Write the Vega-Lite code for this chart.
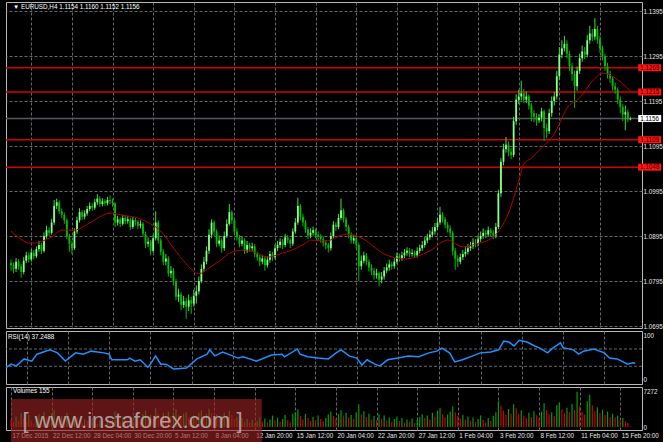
{
"$schema":"https://vega.github.io/schema/vega-lite/v6.json",
"background":"#000000",
"padding":{"left":2,"top":1,"right":0,"bottom":0},
"spacing":3,
"bounds":"flush",
"config":{
 "view":{"stroke":"#b9b9b9","strokeWidth":1},
 "axis":{"title":null,"domain":false,"labelFont":"Liberation Sans","labelFontSize":6.3,"labelColor":"#e6e6e6","gridColor":"#64686d","gridDash":[3,2],"gridWidth":1,"ticks":false,"labelOverlap":false,"labelFlush":false,"labelBound":false},
 "text":{"font":"Liberation Sans"}
},
"resolve":{"scale":{"x":"independent","y":"independent"}},
"datasets":{
"bars":[
{"i":0,"o":1.0835,"h":1.0843,"l":1.0818,"c":1.0830,"v":1500,"u":0},
{"i":1,"o":1.0830,"h":1.0836,"l":1.0812,"c":1.0822,"v":900,"u":0},
{"i":2,"o":1.0822,"h":1.0846,"l":1.0815,"c":1.0838,"v":2100,"u":1},
{"i":3,"o":1.0838,"h":1.0844,"l":1.0820,"c":1.0828,"v":1200,"u":0},
{"i":4,"o":1.0828,"h":1.0833,"l":1.0802,"c":1.0815,"v":2800,"u":1},
{"i":5,"o":1.0815,"h":1.0848,"l":1.0810,"c":1.0840,"v":1600,"u":0},
{"i":6,"o":1.0840,"h":1.0860,"l":1.0835,"c":1.0852,"v":1100,"u":0},
{"i":7,"o":1.0852,"h":1.0858,"l":1.0836,"c":1.0843,"v":2400,"u":1},
{"i":8,"o":1.0843,"h":1.0866,"l":1.0838,"c":1.0858,"v":1300,"u":0},
{"i":9,"o":1.0858,"h":1.0864,"l":1.0843,"c":1.0850,"v":700,"u":0},
{"i":10,"o":1.0850,"h":1.0872,"l":1.0846,"c":1.0866,"v":1900,"u":1},
{"i":11,"o":1.0866,"h":1.0884,"l":1.0860,"c":1.0875,"v":2600,"u":1},
{"i":12,"o":1.0875,"h":1.0880,"l":1.0855,"c":1.0862,"v":1400,"u":0},
{"i":13,"o":1.0862,"h":1.0903,"l":1.0858,"c":1.0895,"v":3100,"u":1},
{"i":14,"o":1.0895,"h":1.0918,"l":1.0889,"c":1.0908,"v":2000,"u":0},
{"i":15,"o":1.0908,"h":1.0914,"l":1.0895,"c":1.0902,"v":1200,"u":0},
{"i":16,"o":1.0902,"h":1.0933,"l":1.0898,"c":1.0925,"v":2700,"u":1},
{"i":17,"o":1.0925,"h":1.0975,"l":1.0920,"c":1.0962,"v":3400,"u":1},
{"i":18,"o":1.0962,"h":1.0978,"l":1.0955,"c":1.0970,"v":1800,"u":0},
{"i":19,"o":1.0970,"h":1.0974,"l":1.0944,"c":1.0950,"v":1300,"u":0},
{"i":20,"o":1.0950,"h":1.0956,"l":1.0935,"c":1.0942,"v":2200,"u":1},
{"i":21,"o":1.0942,"h":1.0947,"l":1.0922,"c":1.0930,"v":1500,"u":0},
{"i":22,"o":1.0930,"h":1.0934,"l":1.0888,"c":1.0895,"v":2900,"u":1},
{"i":23,"o":1.0895,"h":1.0900,"l":1.0860,"c":1.0878,"v":1700,"u":0},
{"i":24,"o":1.0878,"h":1.0884,"l":1.0855,"c":1.0868,"v":1100,"u":0},
{"i":25,"o":1.0868,"h":1.0912,"l":1.0864,"c":1.0905,"v":2300,"u":1},
{"i":26,"o":1.0905,"h":1.0938,"l":1.0900,"c":1.0930,"v":1900,"u":0},
{"i":27,"o":1.0930,"h":1.0957,"l":1.0925,"c":1.0948,"v":1400,"u":0},
{"i":28,"o":1.0948,"h":1.0953,"l":1.0930,"c":1.0938,"v":800,"u":0},
{"i":29,"o":1.0938,"h":1.0952,"l":1.0932,"c":1.0945,"v":1600,"u":1},
{"i":30,"o":1.0945,"h":1.0962,"l":1.0940,"c":1.0955,"v":1200,"u":0},
{"i":31,"o":1.0955,"h":1.0970,"l":1.0950,"c":1.0962,"v":700,"u":0},
{"i":32,"o":1.0962,"h":1.0968,"l":1.0951,"c":1.0958,"v":1500,"u":1},
{"i":33,"o":1.0958,"h":1.0977,"l":1.0953,"c":1.0970,"v":1000,"u":0},
{"i":34,"o":1.0970,"h":1.0988,"l":1.0964,"c":1.0978,"v":600,"u":0},
{"i":35,"o":1.0978,"h":1.0983,"l":1.0960,"c":1.0966,"v":1300,"u":1},
{"i":36,"o":1.0966,"h":1.0979,"l":1.0961,"c":1.0972,"v":900,"u":0},
{"i":37,"o":1.0972,"h":1.0977,"l":1.0962,"c":1.0968,"v":500,"u":0},
{"i":38,"o":1.0968,"h":1.0982,"l":1.0963,"c":1.0975,"v":1100,"u":1},
{"i":39,"o":1.0975,"h":1.0985,"l":1.0966,"c":1.0972,"v":800,"u":0},
{"i":40,"o":1.0972,"h":1.0978,"l":1.0960,"c":1.0968,"v":1400,"u":1},
{"i":41,"o":1.0968,"h":1.0970,"l":1.0915,"c":1.0925,"v":3200,"u":1},
{"i":42,"o":1.0925,"h":1.0940,"l":1.0918,"c":1.0932,"v":1800,"u":0},
{"i":43,"o":1.0932,"h":1.0937,"l":1.0915,"c":1.0922,"v":1100,"u":0},
{"i":44,"o":1.0922,"h":1.0942,"l":1.0918,"c":1.0935,"v":2000,"u":1},
{"i":45,"o":1.0935,"h":1.0940,"l":1.0921,"c":1.0928,"v":1300,"u":0},
{"i":46,"o":1.0928,"h":1.0939,"l":1.0922,"c":1.0932,"v":900,"u":0},
{"i":47,"o":1.0932,"h":1.0936,"l":1.0908,"c":1.0915,"v":1700,"u":1},
{"i":48,"o":1.0915,"h":1.0937,"l":1.0911,"c":1.0930,"v":1200,"u":0},
{"i":49,"o":1.0930,"h":1.0935,"l":1.0918,"c":1.0926,"v":2100,"u":1},
{"i":50,"o":1.0926,"h":1.0931,"l":1.0910,"c":1.0918,"v":1500,"u":0},
{"i":51,"o":1.0918,"h":1.0930,"l":1.0912,"c":1.0922,"v":1000,"u":0},
{"i":52,"o":1.0922,"h":1.0926,"l":1.0893,"c":1.0900,"v":2600,"u":1},
{"i":53,"o":1.0900,"h":1.0905,"l":1.0868,"c":1.0878,"v":3300,"u":1},
{"i":54,"o":1.0878,"h":1.0892,"l":1.0870,"c":1.0882,"v":1900,"u":0},
{"i":55,"o":1.0882,"h":1.0886,"l":1.0852,"c":1.0862,"v":2400,"u":1},
{"i":56,"o":1.0862,"h":1.0898,"l":1.0858,"c":1.0890,"v":1600,"u":0},
{"i":57,"o":1.0890,"h":1.0950,"l":1.0885,"c":1.0925,"v":3800,"u":1},
{"i":58,"o":1.0925,"h":1.0930,"l":1.0878,"c":1.0885,"v":2700,"u":0},
{"i":59,"o":1.0885,"h":1.0890,"l":1.0852,"c":1.0860,"v":1700,"u":0},
{"i":60,"o":1.0860,"h":1.0866,"l":1.0830,"c":1.0838,"v":2900,"u":1},
{"i":61,"o":1.0838,"h":1.0855,"l":1.0830,"c":1.0845,"v":2000,"u":0},
{"i":62,"o":1.0845,"h":1.0850,"l":1.0805,"c":1.0812,"v":3100,"u":1},
{"i":63,"o":1.0812,"h":1.0828,"l":1.0802,"c":1.0818,"v":2200,"u":0},
{"i":64,"o":1.0818,"h":1.0824,"l":1.0785,"c":1.0795,"v":2800,"u":1},
{"i":65,"o":1.0795,"h":1.0800,"l":1.0752,"c":1.0760,"v":3600,"u":1},
{"i":66,"o":1.0760,"h":1.0778,"l":1.0748,"c":1.0765,"v":2400,"u":0},
{"i":67,"o":1.0765,"h":1.0770,"l":1.0730,"c":1.0742,"v":1800,"u":0},
{"i":68,"o":1.0742,"h":1.0762,"l":1.0735,"c":1.0750,"v":2700,"u":1},
{"i":69,"o":1.0750,"h":1.0758,"l":1.0711,"c":1.0738,"v":3000,"u":1},
{"i":70,"o":1.0738,"h":1.0765,"l":1.0728,"c":1.0752,"v":1900,"u":0},
{"i":71,"o":1.0752,"h":1.0760,"l":1.0722,"c":1.0745,"v":1400,"u":0},
{"i":72,"o":1.0745,"h":1.0775,"l":1.0738,"c":1.0762,"v":2300,"u":1},
{"i":73,"o":1.0762,"h":1.0785,"l":1.0745,"c":1.0772,"v":1700,"u":0},
{"i":74,"o":1.0772,"h":1.0805,"l":1.0765,"c":1.0795,"v":2900,"u":1},
{"i":75,"o":1.0795,"h":1.0832,"l":1.0790,"c":1.0822,"v":3400,"u":1},
{"i":76,"o":1.0822,"h":1.0848,"l":1.0815,"c":1.0838,"v":2100,"u":0},
{"i":77,"o":1.0838,"h":1.0872,"l":1.0832,"c":1.0862,"v":2600,"u":1},
{"i":78,"o":1.0862,"h":1.0910,"l":1.0855,"c":1.0898,"v":3700,"u":1},
{"i":79,"o":1.0898,"h":1.0932,"l":1.0890,"c":1.0925,"v":2800,"u":0},
{"i":80,"o":1.0925,"h":1.0930,"l":1.0895,"c":1.0905,"v":1900,"u":0},
{"i":81,"o":1.0905,"h":1.0910,"l":1.0870,"c":1.0878,"v":2500,"u":1},
{"i":82,"o":1.0878,"h":1.0896,"l":1.0872,"c":1.0885,"v":1500,"u":0},
{"i":83,"o":1.0885,"h":1.0890,"l":1.0858,"c":1.0868,"v":2200,"u":1},
{"i":84,"o":1.0868,"h":1.0905,"l":1.0862,"c":1.0895,"v":2900,"u":1},
{"i":85,"o":1.0895,"h":1.0932,"l":1.0890,"c":1.0922,"v":1800,"u":0},
{"i":86,"o":1.0922,"h":1.0966,"l":1.0918,"c":1.0948,"v":3300,"u":1},
{"i":87,"o":1.0948,"h":1.0952,"l":1.0922,"c":1.0930,"v":2400,"u":0},
{"i":88,"o":1.0930,"h":1.0935,"l":1.0898,"c":1.0905,"v":1600,"u":0},
{"i":89,"o":1.0905,"h":1.0912,"l":1.0885,"c":1.0892,"v":2000,"u":1},
{"i":90,"o":1.0892,"h":1.0897,"l":1.0870,"c":1.0878,"v":1300,"u":0},
{"i":91,"o":1.0878,"h":1.0894,"l":1.0872,"c":1.0885,"v":1800,"u":1},
{"i":92,"o":1.0885,"h":1.0890,"l":1.0855,"c":1.0862,"v":1100,"u":0},
{"i":93,"o":1.0862,"h":1.0884,"l":1.0857,"c":1.0875,"v":1600,"u":1},
{"i":94,"o":1.0875,"h":1.0880,"l":1.0860,"c":1.0868,"v":900,"u":0},
{"i":95,"o":1.0868,"h":1.0880,"l":1.0862,"c":1.0872,"v":1400,"u":1},
{"i":96,"o":1.0872,"h":1.0877,"l":1.0848,"c":1.0855,"v":700,"u":0},
{"i":97,"o":1.0855,"h":1.0860,"l":1.0840,"c":1.0848,"v":1200,"u":1},
{"i":98,"o":1.0848,"h":1.0853,"l":1.0828,"c":1.0838,"v":2000,"u":1},
{"i":99,"o":1.0838,"h":1.0852,"l":1.0832,"c":1.0845,"v":1100,"u":0},
{"i":100,"o":1.0845,"h":1.0850,"l":1.0818,"c":1.0830,"v":1700,"u":1},
{"i":101,"o":1.0830,"h":1.0850,"l":1.0825,"c":1.0842,"v":900,"u":0},
{"i":102,"o":1.0842,"h":1.0862,"l":1.0836,"c":1.0855,"v":1500,"u":1},
{"i":103,"o":1.0855,"h":1.0860,"l":1.0840,"c":1.0848,"v":2300,"u":1},
{"i":104,"o":1.0848,"h":1.0876,"l":1.0843,"c":1.0868,"v":1300,"u":0},
{"i":105,"o":1.0868,"h":1.0884,"l":1.0862,"c":1.0875,"v":1900,"u":1},
{"i":106,"o":1.0875,"h":1.0890,"l":1.0868,"c":1.0882,"v":1000,"u":0},
{"i":107,"o":1.0882,"h":1.0888,"l":1.0866,"c":1.0875,"v":1600,"u":1},
{"i":108,"o":1.0875,"h":1.0900,"l":1.0870,"c":1.0892,"v":2400,"u":1},
{"i":109,"o":1.0892,"h":1.0897,"l":1.0879,"c":1.0886,"v":1400,"u":0},
{"i":110,"o":1.0886,"h":1.0890,"l":1.0868,"c":1.0878,"v":900,"u":0},
{"i":111,"o":1.0878,"h":1.0912,"l":1.0873,"c":1.0905,"v":2700,"u":1},
{"i":112,"o":1.0905,"h":1.0935,"l":1.0900,"c":1.0925,"v":3000,"u":1},
{"i":113,"o":1.0925,"h":1.0980,"l":1.0920,"c":1.0962,"v":3600,"u":1},
{"i":114,"o":1.0962,"h":1.0966,"l":1.0930,"c":1.0938,"v":2200,"u":0},
{"i":115,"o":1.0938,"h":1.0944,"l":1.0916,"c":1.0925,"v":1500,"u":0},
{"i":116,"o":1.0925,"h":1.0930,"l":1.0902,"c":1.0910,"v":2600,"u":1},
{"i":117,"o":1.0910,"h":1.0915,"l":1.0888,"c":1.0896,"v":1800,"u":0},
{"i":118,"o":1.0896,"h":1.0912,"l":1.0890,"c":1.0902,"v":1200,"u":0},
{"i":119,"o":1.0902,"h":1.0916,"l":1.0896,"c":1.0908,"v":2000,"u":1},
{"i":120,"o":1.0908,"h":1.0912,"l":1.0890,"c":1.0898,"v":1400,"u":0},
{"i":121,"o":1.0898,"h":1.0905,"l":1.0886,"c":1.0893,"v":2300,"u":1},
{"i":122,"o":1.0893,"h":1.0899,"l":1.0880,"c":1.0888,"v":1600,"u":0},
{"i":123,"o":1.0888,"h":1.0894,"l":1.0872,"c":1.0880,"v":1100,"u":0},
{"i":124,"o":1.0880,"h":1.0886,"l":1.0866,"c":1.0875,"v":1800,"u":1},
{"i":125,"o":1.0875,"h":1.0880,"l":1.0858,"c":1.0868,"v":2500,"u":1},
{"i":126,"o":1.0868,"h":1.0903,"l":1.0862,"c":1.0895,"v":3100,"u":1},
{"i":127,"o":1.0895,"h":1.0928,"l":1.0890,"c":1.0920,"v":2200,"u":0},
{"i":128,"o":1.0920,"h":1.0926,"l":1.0906,"c":1.0915,"v":1700,"u":0},
{"i":129,"o":1.0915,"h":1.0944,"l":1.0910,"c":1.0935,"v":2600,"u":1},
{"i":130,"o":1.0935,"h":1.0978,"l":1.0930,"c":1.0952,"v":3400,"u":1},
{"i":131,"o":1.0952,"h":1.0956,"l":1.0925,"c":1.0932,"v":2300,"u":0},
{"i":132,"o":1.0932,"h":1.0937,"l":1.0906,"c":1.0915,"v":2900,"u":1},
{"i":133,"o":1.0915,"h":1.0920,"l":1.0890,"c":1.0898,"v":1900,"u":0},
{"i":134,"o":1.0898,"h":1.0903,"l":1.0878,"c":1.0885,"v":2400,"u":1},
{"i":135,"o":1.0885,"h":1.0898,"l":1.0878,"c":1.0890,"v":1600,"u":0},
{"i":136,"o":1.0890,"h":1.0896,"l":1.0866,"c":1.0875,"v":3000,"u":1},
{"i":137,"o":1.0875,"h":1.0880,"l":1.0795,"c":1.0828,"v":4600,"u":1},
{"i":138,"o":1.0828,"h":1.0852,"l":1.0820,"c":1.0840,"v":2600,"u":0},
{"i":139,"o":1.0840,"h":1.0860,"l":1.0834,"c":1.0852,"v":3200,"u":1},
{"i":140,"o":1.0852,"h":1.0857,"l":1.0830,"c":1.0838,"v":2000,"u":0},
{"i":141,"o":1.0838,"h":1.0843,"l":1.0816,"c":1.0825,"v":2700,"u":1},
{"i":142,"o":1.0825,"h":1.0832,"l":1.0808,"c":1.0818,"v":1500,"u":0},
{"i":143,"o":1.0818,"h":1.0824,"l":1.0798,"c":1.0808,"v":2200,"u":1},
{"i":144,"o":1.0808,"h":1.0822,"l":1.0800,"c":1.0812,"v":1400,"u":0},
{"i":145,"o":1.0812,"h":1.0816,"l":1.0783,"c":1.0798,"v":2600,"u":1},
{"i":146,"o":1.0798,"h":1.0815,"l":1.0790,"c":1.0805,"v":1700,"u":0},
{"i":147,"o":1.0805,"h":1.0826,"l":1.0798,"c":1.0818,"v":2300,"u":1},
{"i":148,"o":1.0818,"h":1.0834,"l":1.0812,"c":1.0825,"v":1300,"u":0},
{"i":149,"o":1.0825,"h":1.0842,"l":1.0818,"c":1.0832,"v":1900,"u":1},
{"i":150,"o":1.0832,"h":1.0838,"l":1.0820,"c":1.0828,"v":1000,"u":0},
{"i":151,"o":1.0828,"h":1.0846,"l":1.0822,"c":1.0838,"v":1600,"u":1},
{"i":152,"o":1.0838,"h":1.0858,"l":1.0833,"c":1.0850,"v":2100,"u":1},
{"i":153,"o":1.0850,"h":1.0856,"l":1.0838,"c":1.0845,"v":1200,"u":0},
{"i":154,"o":1.0845,"h":1.0860,"l":1.0840,"c":1.0852,"v":1800,"u":1},
{"i":155,"o":1.0852,"h":1.0866,"l":1.0846,"c":1.0858,"v":900,"u":0},
{"i":156,"o":1.0858,"h":1.0870,"l":1.0851,"c":1.0862,"v":1500,"u":1},
{"i":157,"o":1.0862,"h":1.0868,"l":1.0848,"c":1.0855,"v":1100,"u":0},
{"i":158,"o":1.0855,"h":1.0866,"l":1.0849,"c":1.0858,"v":1700,"u":1},
{"i":159,"o":1.0858,"h":1.0863,"l":1.0846,"c":1.0852,"v":800,"u":0},
{"i":160,"o":1.0852,"h":1.0870,"l":1.0847,"c":1.0862,"v":1400,"u":1},
{"i":161,"o":1.0862,"h":1.0876,"l":1.0856,"c":1.0868,"v":2000,"u":1},
{"i":162,"o":1.0868,"h":1.0884,"l":1.0862,"c":1.0875,"v":2600,"u":1},
{"i":163,"o":1.0875,"h":1.0893,"l":1.0869,"c":1.0885,"v":1800,"u":0},
{"i":164,"o":1.0885,"h":1.0900,"l":1.0879,"c":1.0892,"v":2300,"u":1},
{"i":165,"o":1.0892,"h":1.0908,"l":1.0886,"c":1.0898,"v":1500,"u":0},
{"i":166,"o":1.0898,"h":1.0915,"l":1.0892,"c":1.0905,"v":2900,"u":1},
{"i":167,"o":1.0905,"h":1.0924,"l":1.0898,"c":1.0915,"v":2100,"u":0},
{"i":168,"o":1.0915,"h":1.0935,"l":1.0908,"c":1.0925,"v":3300,"u":1},
{"i":169,"o":1.0925,"h":1.0960,"l":1.0920,"c":1.0942,"v":3800,"u":1},
{"i":170,"o":1.0942,"h":1.0948,"l":1.0925,"c":1.0932,"v":2600,"u":0},
{"i":171,"o":1.0932,"h":1.0937,"l":1.0912,"c":1.0920,"v":1900,"u":0},
{"i":172,"o":1.0920,"h":1.0926,"l":1.0903,"c":1.0912,"v":2500,"u":1},
{"i":173,"o":1.0912,"h":1.0918,"l":1.0893,"c":1.0902,"v":3100,"u":1},
{"i":174,"o":1.0902,"h":1.0906,"l":1.0852,"c":1.0862,"v":4200,"u":1},
{"i":175,"o":1.0862,"h":1.0868,"l":1.0820,"c":1.0845,"v":3000,"u":0},
{"i":176,"o":1.0845,"h":1.0852,"l":1.0826,"c":1.0838,"v":2200,"u":0},
{"i":177,"o":1.0838,"h":1.0856,"l":1.0832,"c":1.0848,"v":1700,"u":0},
{"i":178,"o":1.0848,"h":1.0864,"l":1.0842,"c":1.0855,"v":2400,"u":1},
{"i":179,"o":1.0855,"h":1.0870,"l":1.0849,"c":1.0860,"v":1500,"u":0},
{"i":180,"o":1.0860,"h":1.0877,"l":1.0854,"c":1.0868,"v":2100,"u":1},
{"i":181,"o":1.0868,"h":1.0882,"l":1.0862,"c":1.0872,"v":1300,"u":0},
{"i":182,"o":1.0872,"h":1.0890,"l":1.0866,"c":1.0880,"v":1900,"u":1},
{"i":183,"o":1.0880,"h":1.0888,"l":1.0870,"c":1.0878,"v":1000,"u":0},
{"i":184,"o":1.0878,"h":1.0896,"l":1.0872,"c":1.0888,"v":1600,"u":1},
{"i":185,"o":1.0888,"h":1.0905,"l":1.0882,"c":1.0895,"v":2300,"u":1},
{"i":186,"o":1.0895,"h":1.0912,"l":1.0889,"c":1.0902,"v":1400,"u":0},
{"i":187,"o":1.0902,"h":1.0908,"l":1.0890,"c":1.0898,"v":900,"u":0},
{"i":188,"o":1.0898,"h":1.0916,"l":1.0893,"c":1.0908,"v":1800,"u":1},
{"i":189,"o":1.0908,"h":1.0912,"l":1.0895,"c":1.0902,"v":1200,"u":0},
{"i":190,"o":1.0902,"h":1.0908,"l":1.0888,"c":1.0896,"v":2200,"u":1},
{"i":191,"o":1.0896,"h":1.0924,"l":1.0890,"c":1.0915,"v":3000,"u":1},
{"i":192,"o":1.0915,"h":1.0998,"l":1.0910,"c":1.0990,"v":5200,"u":1},
{"i":193,"o":1.0990,"h":1.1068,"l":1.0982,"c":1.1060,"v":4300,"u":0},
{"i":194,"o":1.1060,"h":1.1100,"l":1.1052,"c":1.1088,"v":3300,"u":0},
{"i":195,"o":1.1088,"h":1.1115,"l":1.1080,"c":1.1098,"v":2400,"u":0},
{"i":196,"o":1.1098,"h":1.1105,"l":1.1072,"c":1.1082,"v":3600,"u":1},
{"i":197,"o":1.1082,"h":1.1090,"l":1.1066,"c":1.1075,"v":2700,"u":0},
{"i":198,"o":1.1075,"h":1.1160,"l":1.1070,"c":1.1150,"v":4600,"u":1},
{"i":199,"o":1.1150,"h":1.1210,"l":1.1142,"c":1.1198,"v":3800,"u":0},
{"i":200,"o":1.1198,"h":1.1220,"l":1.1188,"c":1.1205,"v":2600,"u":0},
{"i":201,"o":1.1205,"h":1.1240,"l":1.1196,"c":1.1212,"v":3400,"u":1},
{"i":202,"o":1.1212,"h":1.1222,"l":1.1190,"c":1.1198,"v":2300,"u":0},
{"i":203,"o":1.1198,"h":1.1216,"l":1.1190,"c":1.1205,"v":1800,"u":0},
{"i":204,"o":1.1205,"h":1.1210,"l":1.1176,"c":1.1185,"v":2900,"u":1},
{"i":205,"o":1.1185,"h":1.1190,"l":1.1150,"c":1.1168,"v":2000,"u":0},
{"i":206,"o":1.1168,"h":1.1175,"l":1.1148,"c":1.1160,"v":3200,"u":1},
{"i":207,"o":1.1160,"h":1.1168,"l":1.1140,"c":1.1152,"v":2400,"u":0},
{"i":208,"o":1.1152,"h":1.1166,"l":1.1146,"c":1.1158,"v":1700,"u":0},
{"i":209,"o":1.1158,"h":1.1180,"l":1.1150,"c":1.1172,"v":3100,"u":1},
{"i":210,"o":1.1172,"h":1.1176,"l":1.1106,"c":1.1135,"v":4800,"u":1},
{"i":211,"o":1.1135,"h":1.1145,"l":1.1112,"c":1.1128,"v":3500,"u":0},
{"i":212,"o":1.1128,"h":1.1178,"l":1.1122,"c":1.1168,"v":2600,"u":0},
{"i":213,"o":1.1168,"h":1.1205,"l":1.1160,"c":1.1195,"v":3000,"u":1},
{"i":214,"o":1.1195,"h":1.1215,"l":1.1185,"c":1.1205,"v":2200,"u":0},
{"i":215,"o":1.1205,"h":1.1262,"l":1.1198,"c":1.1250,"v":4400,"u":1},
{"i":216,"o":1.1250,"h":1.1315,"l":1.1242,"c":1.1298,"v":5000,"u":1},
{"i":217,"o":1.1298,"h":1.1330,"l":1.1290,"c":1.1312,"v":3600,"u":0},
{"i":218,"o":1.1312,"h":1.1340,"l":1.1305,"c":1.1322,"v":2800,"u":0},
{"i":219,"o":1.1322,"h":1.1330,"l":1.1290,"c":1.1300,"v":3900,"u":1},
{"i":220,"o":1.1300,"h":1.1306,"l":1.1262,"c":1.1272,"v":3000,"u":0},
{"i":221,"o":1.1272,"h":1.1280,"l":1.1240,"c":1.1255,"v":4700,"u":1},
{"i":222,"o":1.1255,"h":1.1262,"l":1.1180,"c":1.1228,"v":3400,"u":0},
{"i":223,"o":1.1228,"h":1.1272,"l":1.1218,"c":1.1262,"v":7100,"u":1},
{"i":224,"o":1.1262,"h":1.1300,"l":1.1255,"c":1.1290,"v":4200,"u":0},
{"i":225,"o":1.1290,"h":1.1318,"l":1.1282,"c":1.1305,"v":3100,"u":0},
{"i":226,"o":1.1305,"h":1.1315,"l":1.1288,"c":1.1298,"v":2500,"u":0},
{"i":227,"o":1.1298,"h":1.1342,"l":1.1292,"c":1.1330,"v":5200,"u":1},
{"i":228,"o":1.1330,"h":1.1362,"l":1.1322,"c":1.1345,"v":6500,"u":1},
{"i":229,"o":1.1345,"h":1.1355,"l":1.1328,"c":1.1338,"v":4400,"u":0},
{"i":230,"o":1.1338,"h":1.1379,"l":1.1330,"c":1.1355,"v":3200,"u":0},
{"i":231,"o":1.1355,"h":1.1362,"l":1.1322,"c":1.1332,"v":4000,"u":1},
{"i":232,"o":1.1332,"h":1.1340,"l":1.1302,"c":1.1312,"v":2800,"u":0},
{"i":233,"o":1.1312,"h":1.1318,"l":1.1285,"c":1.1295,"v":3500,"u":1},
{"i":234,"o":1.1295,"h":1.1300,"l":1.1262,"c":1.1272,"v":2400,"u":0},
{"i":235,"o":1.1272,"h":1.1280,"l":1.1245,"c":1.1255,"v":3100,"u":1},
{"i":236,"o":1.1255,"h":1.1262,"l":1.1235,"c":1.1245,"v":2000,"u":0},
{"i":237,"o":1.1245,"h":1.1250,"l":1.1218,"c":1.1228,"v":2700,"u":1},
{"i":238,"o":1.1228,"h":1.1236,"l":1.1210,"c":1.1220,"v":1900,"u":0},
{"i":239,"o":1.1220,"h":1.1225,"l":1.1188,"c":1.1198,"v":2300,"u":1},
{"i":240,"o":1.1198,"h":1.1205,"l":1.1168,"c":1.1182,"v":1500,"u":0},
{"i":241,"o":1.1182,"h":1.1188,"l":1.1150,"c":1.1165,"v":1800,"u":1},
{"i":242,"o":1.1165,"h":1.1185,"l":1.1130,"c":1.1170,"v":1100,"u":0},
{"i":243,"o":1.1170,"h":1.1176,"l":1.1148,"c":1.1154,"v":800,"u":0},
{"i":244,"o":1.1154,"h":1.1160,"l":1.1152,"c":1.1156,"v":155,"u":0}
],
"ma":[
{"i":0,"ma":1.0906},{"i":8,"ma":1.0879},{"i":16,"ma":1.0893},{"i":20,"ma":1.0908},{"i":25,"ma":1.0908},{"i":31,"ma":1.0924},{"i":39,"ma":1.0946},{"i":43,"ma":1.0942},{"i":51,"ma":1.0933},{"i":55,"ma":1.0922},{"i":59,"ma":1.0906},{"i":64,"ma":1.0868},{"i":69,"ma":1.0833},{"i":74,"ma":1.0811},{"i":78,"ma":1.0824},{"i":82,"ma":1.0839},{"i":87,"ma":1.0859},{"i":92,"ma":1.0864},{"i":97,"ma":1.0857},{"i":101,"ma":1.0848},{"i":107,"ma":1.0857},{"i":110,"ma":1.0862},{"i":116,"ma":1.0879},{"i":118,"ma":1.0886},{"i":124,"ma":1.0884},{"i":132,"ma":1.0899},{"i":138,"ma":1.0891},{"i":147,"ma":1.0855},{"i":155,"ma":1.0844},{"i":165,"ma":1.0862},{"i":172,"ma":1.0886},{"i":178,"ma":1.0871},{"i":183,"ma":1.0877},{"i":190,"ma":1.0893},{"i":193,"ma":1.0913},{"i":196,"ma":1.0946},{"i":200,"ma":1.1017},{"i":202,"ma":1.1055},{"i":205,"ma":1.1068},{"i":209,"ma":1.1091},{"i":214,"ma":1.1122},{"i":216,"ma":1.1144},{"i":219,"ma":1.1179},{"i":224,"ma":1.1202},{"i":229,"ma":1.1239},{"i":233,"ma":1.1257},{"i":238,"ma":1.1246},{"i":244,"ma":1.1217}
],
"rsi":[
{"i":0,"r":27},{"i":2,"r":35},{"i":4,"r":31},{"i":7,"r":47},{"i":10,"r":42},{"i":12,"r":58},{"i":17,"r":68},{"i":20,"r":61},{"i":23,"r":42},{"i":27,"r":61},{"i":30,"r":58},{"i":33,"r":65},{"i":38,"r":61},{"i":40,"r":58},{"i":41,"r":45},{"i":47,"r":45},{"i":48,"r":49},{"i":50,"r":42},{"i":52,"r":45},{"i":55,"r":28},{"i":56,"r":35},{"i":58,"r":54},{"i":60,"r":35},{"i":62,"r":35},{"i":65,"r":24},{"i":70,"r":26},{"i":74,"r":47},{"i":78,"r":58},{"i":79,"r":68},{"i":81,"r":54},{"i":84,"r":63},{"i":90,"r":49},{"i":92,"r":52},{"i":97,"r":42},{"i":103,"r":56},{"i":107,"r":58},{"i":108,"r":52},{"i":113,"r":70},{"i":114,"r":58},{"i":117,"r":52},{"i":121,"r":49},{"i":125,"r":47},{"i":128,"r":61},{"i":130,"r":68},{"i":133,"r":54},{"i":136,"r":49},{"i":138,"r":33},{"i":140,"r":45},{"i":143,"r":35},{"i":145,"r":31},{"i":148,"r":45},{"i":152,"r":49},{"i":156,"r":54},{"i":160,"r":52},{"i":164,"r":61},{"i":167,"r":65},{"i":169,"r":72},{"i":172,"r":61},{"i":174,"r":40},{"i":177,"r":45},{"i":181,"r":54},{"i":184,"r":61},{"i":188,"r":63},{"i":191,"r":68},{"i":193,"r":88},{"i":195,"r":86},{"i":197,"r":77},{"i":199,"r":90},{"i":202,"r":86},{"i":205,"r":77},{"i":207,"r":72},{"i":210,"r":61},{"i":212,"r":72},{"i":215,"r":84},{"i":216,"r":73},{"i":220,"r":68},{"i":222,"r":58},{"i":224,"r":65},{"i":228,"r":70},{"i":232,"r":61},{"i":234,"r":49},{"i":237,"r":47},{"i":241,"r":35},{"i":243,"r":38},{"i":244,"r":37.25}
],
"levels":[
{"level":1.1269,"lab":"1.1269"},{"level":1.1215,"lab":"1.1215"},{"level":1.1109,"lab":"1.1109"},{"level":1.1048,"lab":"1.1048"}
],
"bid":[{"level":1.1156,"lab":"1.1156"}]
},
"vconcat":[
{"width":636,"height":326,
 "layer":[
  {"data":{"name":"levels"},"mark":{"type":"rule","color":"#d40000","strokeWidth":1.5},"encoding":{"y":{"field":"level","type":"quantitative"}}},
  {"data":{"name":"bid"},"mark":{"type":"rule","color":"#525860","strokeWidth":1.5},"encoding":{"y":{"field":"level","type":"quantitative"}}},
  {"data":{"name":"bars"},"mark":{"type":"rule","strokeWidth":1},
   "encoding":{
    "x":{"field":"i","type":"quantitative","scale":{"domain":[0,246.6],"nice":false,"zero":false},"axis":{"values":[8,16,24,32,40,48,56,64,72,80,88,96,104,112,120,128,136,144,152,160,168,176,184,192,200,208,216,224,232,240],"labels":false,"grid":true,"minExtent":0,"maxExtent":0,"labelPadding":0}},
    "y":{"field":"l","type":"quantitative","scale":{"domain":[1.069056,1.1415],"nice":false,"zero":false},"axis":{"orient":"right","values":[1.0695,1.0745,1.0795,1.0845,1.0895,1.0945,1.0995,1.1045,1.1095,1.1145,1.1195,1.1245,1.1295,1.1345,1.1395],"format":".4f","grid":true,"labelPadding":1}},
    "y2":{"field":"h"},
    "color":{"condition":{"test":"datum.c>=datum.o","value":"#3ee03e"},"value":"#00b800"}}},
  {"data":{"name":"bars"},"mark":{"type":"bar","width":1.8,"orient":"vertical"},
   "encoding":{
    "x":{"field":"i","type":"quantitative"},
    "y":{"field":"o","type":"quantitative"},
    "y2":{"field":"c"},
    "color":{"condition":{"test":"datum.c>=datum.o","value":"#86ff86"},"value":"#00c000"}}},
  {"data":{"name":"ma"},"mark":{"type":"line","color":"#b40000","strokeWidth":1,"interpolate":"monotone"},"encoding":{"x":{"field":"i","type":"quantitative"},"y":{"field":"ma","type":"quantitative"}}},
  {"data":{"name":"levels"},"mark":{"type":"tick","orient":"horizontal","thickness":7,"size":23,"color":"#ff1414","opacity":1},"encoding":{"x":{"datum":251.6},"y":{"field":"level","type":"quantitative"}}},
  {"data":{"name":"levels"},"mark":{"type":"text","fontSize":6.3,"color":"#300000","align":"center","baseline":"middle"},"encoding":{"x":{"datum":251.6},"y":{"field":"level","type":"quantitative"},"text":{"field":"lab"}}},
  {"data":{"name":"bid"},"mark":{"type":"tick","orient":"horizontal","thickness":7,"size":23,"color":"#ffffff","opacity":1},"encoding":{"x":{"datum":251.6},"y":{"field":"level","type":"quantitative"}}},
  {"data":{"name":"bid"},"mark":{"type":"text","fontSize":6.3,"color":"#000000","align":"center","baseline":"middle"},"encoding":{"x":{"datum":251.6},"y":{"field":"level","type":"quantitative"},"text":{"field":"lab"}}},
  {"data":{"values":[{"t":"▼ EURUSD,H4  1.1154 1.1160 1.1152 1.1156"}]},"mark":{"type":"text","fontSize":6.3,"color":"#ffffff","align":"left","baseline":"middle"},"encoding":{"x":{"datum":0.8},"y":{"datum":1.1404},"text":{"field":"t"}}}
 ]},
{"width":636,"height":53,
 "layer":[
  {"data":{"values":[{"g":30},{"g":70}]},"mark":{"type":"rule","color":"#64686d","strokeDash":[3,2],"strokeWidth":1},
   "encoding":{"y":{"field":"g","type":"quantitative","scale":{"domain":[-10.85,111.5],"nice":false,"zero":false},"axis":{"orient":"right","values":[0,30,70,100],"format":"d","grid":false,"labelPadding":1}}}},
  {"data":{"name":"rsi"},"mark":{"type":"line","color":"#1e90ff","strokeWidth":1.5},
   "encoding":{
    "x":{"field":"i","type":"quantitative","scale":{"domain":[0,246.6],"nice":false,"zero":false},"axis":{"values":[8,16,24,32,40,48,56,64,72,80,88,96,104,112,120,128,136,144,152,160,168,176,184,192,200,208,216,224,232,240],"labels":false,"grid":true,"minExtent":0,"maxExtent":0,"labelPadding":0}},
    "y":{"field":"r","type":"quantitative"}}},
  {"data":{"values":[{"t":"RSI(14) 37.2488"}]},"mark":{"type":"text","fontSize":6.3,"color":"#ffffff","align":"left","baseline":"middle"},"encoding":{"x":{"datum":0.8},"y":{"datum":97.7},"text":{"field":"t"}}}
 ]},
{"width":636,"height":43,
 "layer":[
  {"data":{"name":"bars"},"mark":{"type":"bar","width":1.2,"orient":"vertical"},
   "encoding":{
    "x":{"field":"i","type":"quantitative","scale":{"domain":[0,246.6],"nice":false,"zero":false},"axis":{"values":[0,8,16,24,32,40,48,56,64,72,80,88,96,104,112,120,128,136,144,152,160,168,176,184,192,200,208,216,224,232,240],"grid":true,"labelAlign":"left","labelBaseline":"top","labelPadding":2,"labelOffset":1,
      "labelExpr":"datum.value % 16 == 0 ? ['17 Dec 2015','22 Dec 12:00','28 Dec 04:00','30 Dec 20:00','5 Jan 12:00','8 Jan 04:00','12 Jan 20:00','15 Jan 12:00','20 Jan 04:00','22 Jan 20:00','27 Jan 12:00','1 Feb 04:00','3 Feb 20:00','8 Feb 12:00','11 Feb 04:00','15 Feb 20:00'][datum.value/16] : ''"}},
    "y":{"field":"v","type":"quantitative","scale":{"domain":[-606,8080],"nice":false,"zero":false},"axis":{"orient":"right","values":[0,7272],"format":"d","grid":false,"labelPadding":1}},
    "y2":{"datum":0},
    "color":{"condition":{"test":"datum.u==1","value":"#00a000"},"value":"#d00000"}}},
  {"data":{"values":[{}]},"mark":{"type":"rect","color":"#9a2222","opacity":0.62},"encoding":{"x":{"datum":0},"x2":{"datum":98.8},"y":{"datum":5656},"y2":{"datum":-3100}}},
  {"data":{"values":[{"t":"[ www.instaforex.com ]"}]},"mark":{"type":"text","fontSize":22,"font":"Liberation Sans","color":"#c8c8c8","opacity":0.75,"align":"left","baseline":"alphabetic"},"encoding":{"x":{"datum":4.5},"y":{"datum":-250},"text":{"field":"t"}}},
  {"data":{"values":[{"t":"Volumes 155"}]},"mark":{"type":"text","fontSize":6.3,"color":"#ffffff","align":"left","baseline":"middle"},"encoding":{"x":{"datum":0.8},"y":{"datum":7272},"text":{"field":"t"}}}
 ]}
]
}
